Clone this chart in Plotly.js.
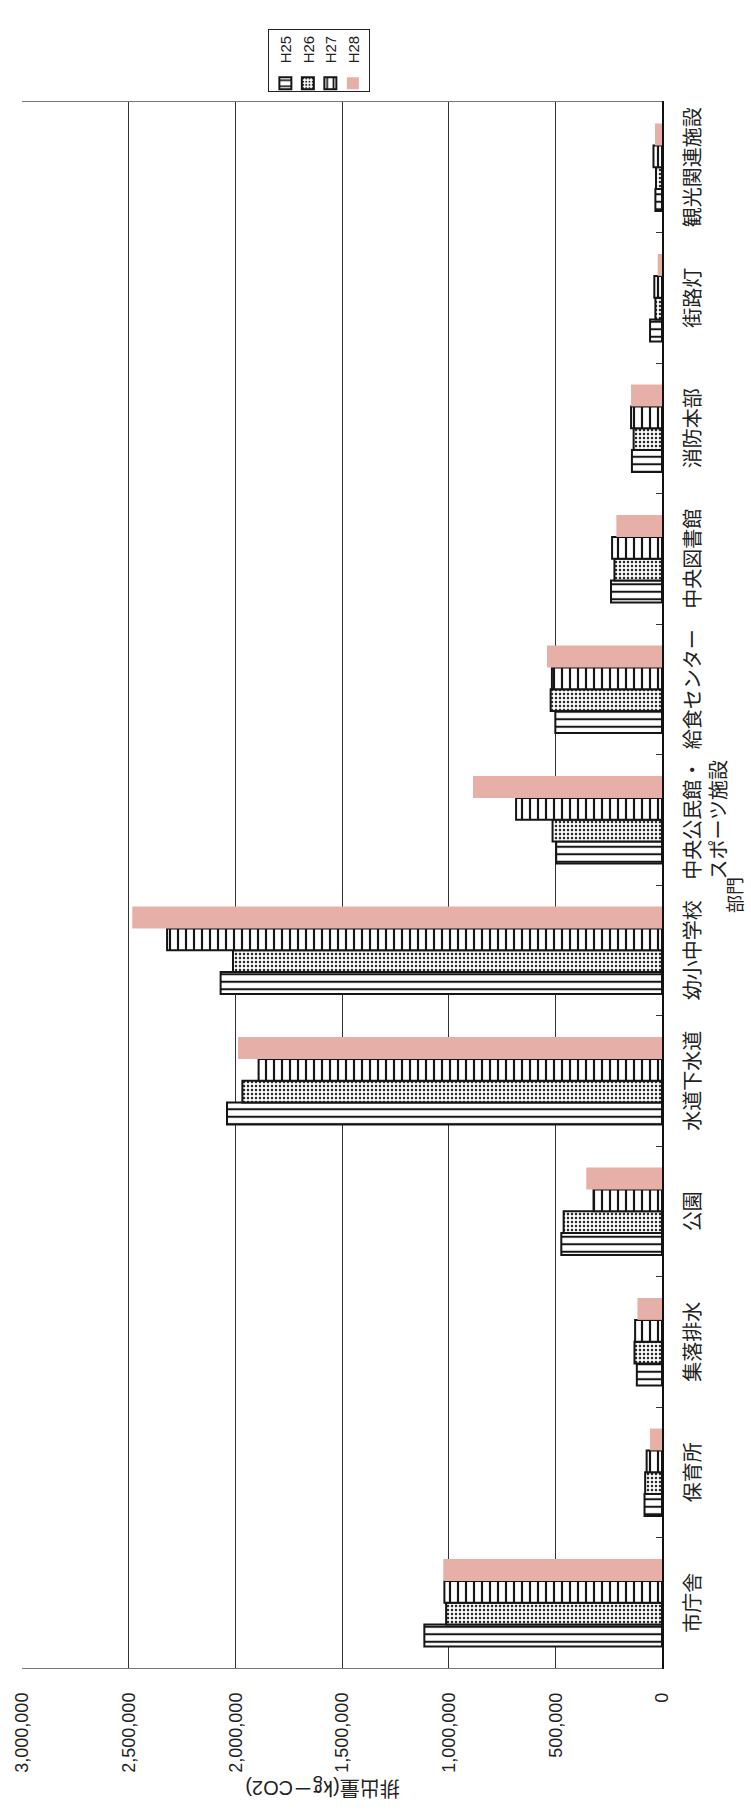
<!DOCTYPE html>
<html>
<head>
<meta charset="utf-8">
<script src="https://cdn.plot.ly/plotly-3.0.1.min.js"></script>
<style>
  html, body { margin: 0; padding: 0; width: 751px; height: 1810px; overflow: hidden; background: #fff; }
  #plot { position: absolute; left: 0; top: 0; width: 1810px; height: 751px;
          transform-origin: 0 0; transform: translate(0px, 1810px) rotate(-90deg); }
</style>
</head>
<body>
<div id="plot"></div>
<script>
// Categories (部門)
var categories = ['市庁舎', '保育所', '集落排水', '公園', '水道下水道', '幼小中学校',
                  '中央公民館・<br>スポーツ施設', '給食センター', '中央図書館', '消防本部', '街路灯', '観光関連施設'];
// 排出量 (kg-CO2)
var H25 = [1114000, 82000, 118000, 472000, 2039000, 2069000, 496000, 500000, 239000, 141000, 56000, 31000];
var H26 = [1012000, 79000, 129000, 461000, 1967000, 2011000, 513000, 522000, 223000, 133000, 31000, 28000];
var H27 = [1020000, 72000, 126000, 321000, 1891000, 2320000, 684000, 516000, 234000, 145000, 36000, 40000];
var H28 = [1025000, 56000, 115000, 355000, 1987000, 2483000, 886000, 539000, 214000, 145000, 20000, 33000];
var seriesNames = ['H25', 'H26', 'H27', 'H28'];
var valueTicks = [0, 500000, 1000000, 1500000, 2000000, 2500000, 3000000];
var valueTickText = ['0', '500,000', '1,000,000', '1,500,000', '2,000,000', '2,500,000', '3,000,000'];

var FONT = '"Liberation Sans", "Noto Sans CJK JP", sans-serif';
var outline = {color: '#151515', width: 2};

var traces = [
  {type: 'bar', name: seriesNames[0], x: categories, y: H25,
   marker: {color: '#ffffff', line: outline,
            pattern: {shape: '|', fgcolor: '#151515', bgcolor: '#ffffff', size: 7.5, solidity: 0.27}}},
  {type: 'bar', name: seriesNames[1], x: categories, y: H26,
   marker: {color: '#ffffff', line: outline,
            pattern: {shape: '.', fgcolor: '#2a2a2a', bgcolor: '#ffffff', size: 4, solidity: 0.35}}},
  {type: 'bar', name: seriesNames[2], x: categories, y: H27,
   marker: {color: '#ffffff', line: outline,
            pattern: {shape: '-', fgcolor: '#151515', bgcolor: '#ffffff', size: 8, solidity: 0.27}}},
  {type: 'bar', name: seriesNames[3], x: categories, y: H28,
   marker: {color: '#e6afa7', line: {width: 0}}}
];

var layout = {
  width: 1810, height: 751,
  margin: {l: 142, r: 102, t: 22, b: 89},
  paper_bgcolor: '#ffffff', plot_bgcolor: '#ffffff',
  font: {family: FONT, color: '#222', size: 18},
  barmode: 'group', bargap: 0.33, bargroupgap: 0,
  showlegend: true,
  legend: {xref: 'container', yref: 'container', x: 0.949, y: 0.643, xanchor: 'left', yanchor: 'top',
           bordercolor: '#222', borderwidth: 1, font: {size: 15, family: FONT, color: '#222'},
           bgcolor: '#fff', traceorder: 'normal', itemwidth: 30, indentation: -12, tracegroupgap: 0},
  xaxis: {
    type: 'category', showline: true, linecolor: '#111', linewidth: 1.5, mirror: false,
    ticks: 'inside', ticklen: 6, tickcolor: '#333', tickson: 'boundaries',
    showgrid: false, tickfont: {size: 20, family: FONT, color: '#222'},
    ticklabelstandoff: 12, automargin: false
  },
  yaxis: {
    range: [0, 3000000], tickvals: valueTicks, ticktext: valueTickText,
    showgrid: true, gridcolor: '#333', gridwidth: 1, zeroline: false,
    showline: true, linecolor: '#777', linewidth: 1, mirror: true,
    ticks: '', ticklabelstandoff: 20, tickfont: {size: 18, family: FONT, color: '#222'},
    automargin: false
  },
  annotations: [
    {text: '排出量(㎏－CO2)', xref: 'paper', yref: 'paper', x: -0.076, y: 0.53,
     textangle: -90, showarrow: false, font: {size: 20, family: FONT, color: '#222'},
     xanchor: 'center', yanchor: 'middle'},
    {text: '部門', xref: 'paper', yref: 'paper', x: 0.4936, y: -0.115,
     showarrow: false, font: {size: 18, family: FONT, color: '#222'},
     xanchor: 'center', yanchor: 'middle'}
  ]
};

Plotly.newPlot('plot', traces, layout, {displayModeBar: false, staticPlot: true});
</script>
</body>
</html>
